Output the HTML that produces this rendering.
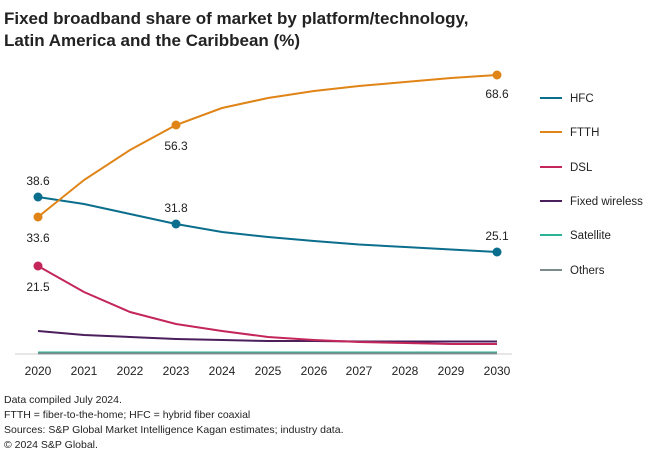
<!DOCTYPE html>
<html><head><meta charset="utf-8"><style>
body{margin:0;background:#fff;width:660px;height:464px;overflow:hidden;font-family:"Liberation Sans",sans-serif;}
</style></head><body>
<svg width="660" height="464" xmlns="http://www.w3.org/2000/svg" font-family="Liberation Sans, sans-serif">
<text x="4" y="24" font-size="17" font-weight="bold" fill="#222">Fixed broadband share of market by platform/technology,</text>
<text x="4" y="46" font-size="17" font-weight="bold" fill="#222">Latin America and the Caribbean (%)</text>
<line x1="15" y1="354" x2="512" y2="354" stroke="#ddd" stroke-width="1.5"/>
<polyline fill="none" stroke="#7b8a8a" stroke-width="2.5" points="38,353 497,353"/>
<polyline fill="none" stroke="#2bb39a" stroke-width="1" points="38,352 497,352"/>
<polyline fill="none" stroke="#4a1f5c" stroke-width="2" points="38,331 84,335 130,337 176,339 222,340 268,341 314,341 359,341.5 405,341.5 451,341.5 497,341.5"/>
<polyline fill="none" stroke="#c4265a" stroke-width="2" points="38,266 84,292 130,312 176,324 222,331 268,337 314,340 359,342 405,343 451,344 497,344"/>
<polyline fill="none" stroke="#0b6e8c" stroke-width="2" points="38,197 84,204 130,214 176,224 222,232 268,237 314,241 359,244.5 405,247 451,249.5 497,252"/>
<polyline fill="none" stroke="#e08417" stroke-width="2" points="38,217 84,180 130,150 176,125 222,108 268,98 314,91 359,86 405,82 451,78 497,75"/>
<g fill="#0b6e8c"><circle cx="38" cy="197" r="4.5"/><circle cx="176" cy="224" r="4.5"/><circle cx="497" cy="252" r="4.5"/></g>
<g fill="#e08417"><circle cx="38" cy="217" r="4.5"/><circle cx="176" cy="125" r="4.5"/><circle cx="497" cy="75" r="4.5"/></g>
<circle cx="38" cy="266" r="4.5" fill="#c4265a"/>
<g font-size="12" fill="#222" text-anchor="middle">
<text x="38" y="185">38.6</text><text x="38" y="242">33.6</text><text x="38" y="291">21.5</text>
<text x="176" y="212">31.8</text><text x="176" y="150">56.3</text>
<text x="497" y="240">25.1</text><text x="497" y="98">68.6</text>
<text x="38" y="375">2020</text><text x="84" y="375">2021</text><text x="130" y="375">2022</text><text x="176" y="375">2023</text><text x="222" y="375">2024</text><text x="268" y="375">2025</text><text x="314" y="375">2026</text><text x="359" y="375">2027</text><text x="405" y="375">2028</text><text x="451" y="375">2029</text><text x="497" y="375">2030</text>
</g>
<g stroke-width="2">
<line x1="540" y1="98" x2="562" y2="98" stroke="#0b6e8c"/>
<line x1="540" y1="132" x2="562" y2="132" stroke="#e08417"/>
<line x1="540" y1="167" x2="562" y2="167" stroke="#c4265a"/>
<line x1="540" y1="201" x2="562" y2="201" stroke="#4a1f5c"/>
<line x1="540" y1="235" x2="562" y2="235" stroke="#2bb39a"/>
<line x1="540" y1="270" x2="562" y2="270" stroke="#7b8a8a"/>
</g>
<g font-size="11.5" fill="#222">
<text x="570" y="102">HFC</text><text x="570" y="136">FTTH</text><text x="570" y="171">DSL</text>
<text x="570" y="205">Fixed wireless</text><text x="570" y="239">Satellite</text><text x="570" y="274">Others</text>
</g>
<g font-size="10.5" fill="#222">
<text x="4" y="403">Data compiled July 2024.</text>
<text x="4" y="418">FTTH = fiber-to-the-home; HFC = hybrid fiber coaxial</text>
<text x="4" y="433">Sources: S&amp;P Global Market Intelligence Kagan estimates; industry data.</text>
<text x="4" y="448">© 2024 S&amp;P Global.</text>
</g>
</svg>
</body></html>
